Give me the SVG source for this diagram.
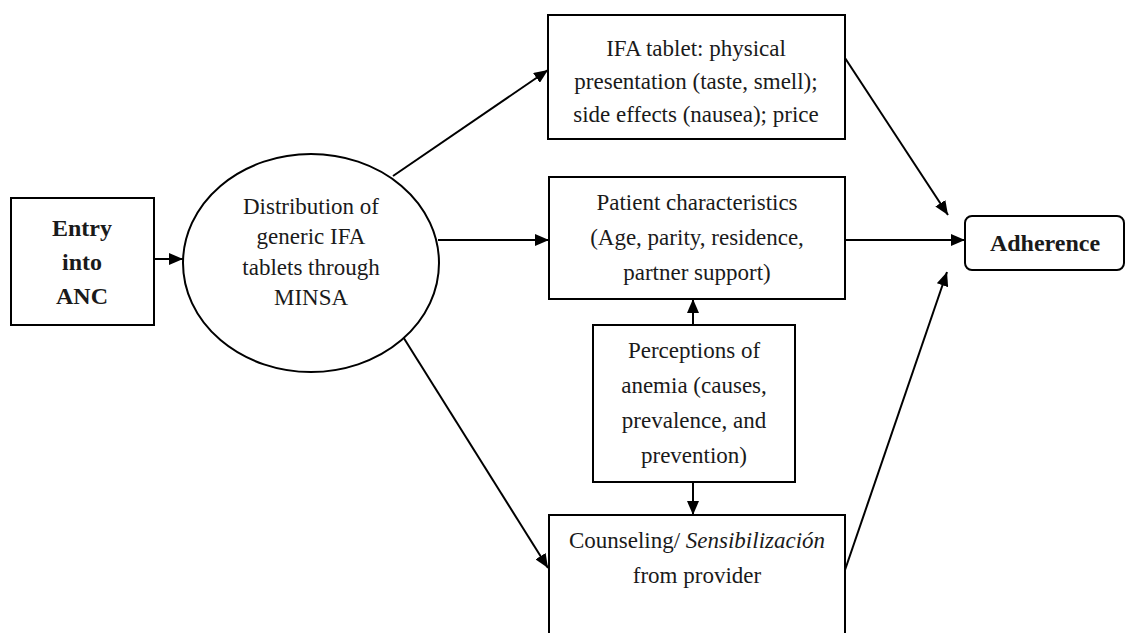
<svg xmlns="http://www.w3.org/2000/svg" width="1128" height="633" viewBox="0 0 1128 633" font-family="'Liberation Serif', 'DejaVu Serif', serif">
  <style>
    text { font-family: 'Liberation Serif', 'DejaVu Serif', serif; }
    .box { fill: #ffffff; stroke: #000000; stroke-width: 2; }
    .lbl { font-size: 23px; fill: #1a1a1a; text-anchor: middle; }
    .small { font-size: 23px; }
    .bold { font-weight: bold; font-size: 24px; }
    .edge { stroke: #000000; stroke-width: 2; fill: none; marker-end: url(#arrow); }
  </style>
  <defs>
    <marker id="arrow" viewBox="0 0 14 12" refX="14" refY="6" markerWidth="14" markerHeight="12" markerUnits="userSpaceOnUse" orient="auto">
      <path d="M0,0 L14,6 L0,12 Z" fill="#000000"/>
    </marker>
  </defs>
  <rect width="1128" height="633" fill="#ffffff"/>

  <g id="connectors">
    <line class="edge" x1="154" y1="259" x2="183" y2="259"/>
    <line class="edge" x1="393" y1="176" x2="548" y2="70"/>
    <line class="edge" x1="438" y1="240" x2="549" y2="240"/>
    <line class="edge" x1="400" y1="332" x2="548" y2="568"/>
    <line class="edge" x1="693" y1="325" x2="693" y2="299"/>
    <line class="edge" x1="693" y1="482" x2="693" y2="515"/>
    <line class="edge" x1="845" y1="58" x2="948" y2="215"/>
    <line class="edge" x1="845" y1="240" x2="965" y2="240"/>
    <line class="edge" x1="845" y1="570" x2="947" y2="272"/>
  </g>

  <g id="entry">
    <rect class="box" x="11" y="198" width="143" height="127"/>
    <text class="lbl bold" x="82" y="236">Entry</text>
    <text class="lbl bold" x="82" y="270">into</text>
    <text class="lbl bold" x="82" y="304">ANC</text>
  </g>

  <g id="distribution">
    <ellipse class="box" cx="311" cy="263" rx="128" ry="109"/>
    <text class="lbl small" x="311" y="214">Distribution of</text>
    <text class="lbl small" x="311" y="244">generic IFA</text>
    <text class="lbl small" x="311" y="275">tablets through</text>
    <text class="lbl small" x="311" y="305">MINSA</text>
  </g>

  <g id="ifa-tablet">
    <rect class="box" x="548" y="15" width="297" height="124"/>
    <text class="lbl" x="696" y="56">IFA tablet: physical</text>
    <text class="lbl" x="696" y="89">presentation (taste, smell);</text>
    <text class="lbl" x="696" y="122">side effects (nausea); price</text>
  </g>

  <g id="patient">
    <rect class="box" x="549" y="177" width="296" height="122"/>
    <text class="lbl" x="697" y="210">Patient characteristics</text>
    <text class="lbl" x="697" y="245">(Age, parity, residence,</text>
    <text class="lbl" x="697" y="280">partner support)</text>
  </g>

  <g id="perceptions">
    <rect class="box" x="593" y="325" width="202" height="157"/>
    <text class="lbl" x="694" y="358">Perceptions of</text>
    <text class="lbl" x="694" y="393">anemia (causes,</text>
    <text class="lbl" x="694" y="428">prevalence, and</text>
    <text class="lbl" x="694" y="463">prevention)</text>
  </g>

  <g id="counseling">
    <rect class="box" x="549" y="515" width="296" height="130"/>
    <text class="lbl" x="697" y="548">Counseling/ <tspan font-style="italic">Sensibilización</tspan></text>
    <text class="lbl" x="697" y="583">from provider</text>
  </g>

  <g id="adherence">
    <rect class="box" x="965" y="216" width="159" height="54" rx="7" ry="7"/>
    <text class="lbl bold" x="1045" y="251">Adherence</text>
  </g>
</svg>
